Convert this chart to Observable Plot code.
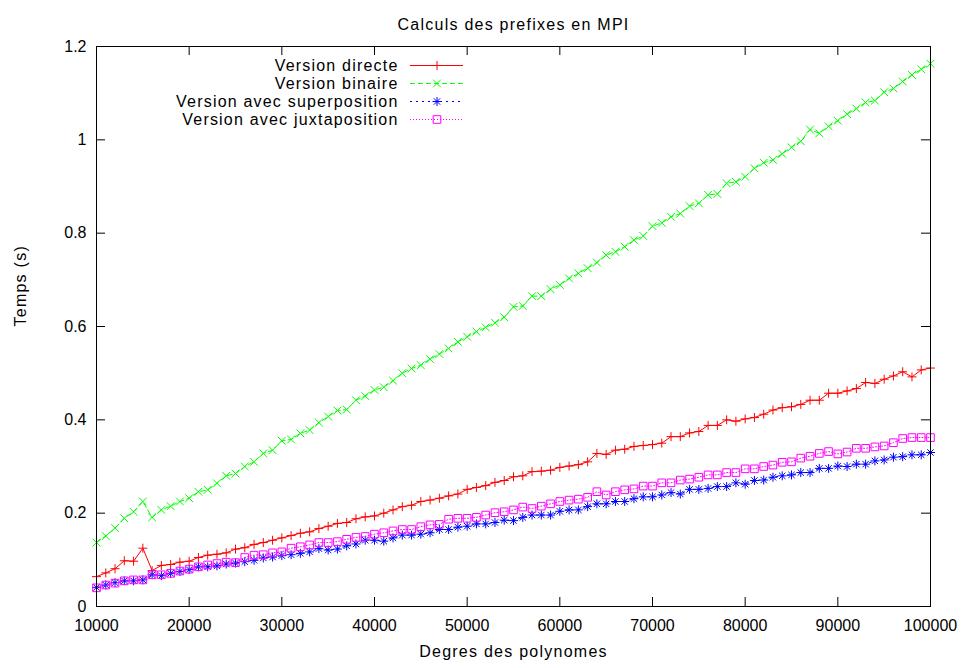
<!DOCTYPE html>
<html>
<head>
<meta charset="utf-8">
<script src="https://cdn.jsdelivr.net/npm/d3@7"></script>
<script src="https://cdn.jsdelivr.net/npm/@observablehq/plot@0.6"></script>
<style>
  html, body { margin: 0; padding: 0; background: #fff; }
  #wrap { position: relative; width: 967px; height: 668px; }
  #legend { position: absolute; left: 160px; top: 50px; }
</style>
</head>
<body>
<div id="wrap"><div id="main"></div><div id="legend"></div></div>
<script>
const degres = [10000,11000,12000,13000,14000,15000,16000,17000,18000,19000,
  20000,21000,22000,23000,24000,25000,26000,27000,28000,29000,
  30000,31000,32000,33000,34000,35000,36000,37000,38000,39000,
  40000,41000,42000,43000,44000,45000,46000,47000,48000,49000,
  50000,51000,52000,53000,54000,55000,56000,57000,58000,59000,
  60000,61000,62000,63000,64000,65000,66000,67000,68000,69000,
  70000,71000,72000,73000,74000,75000,76000,77000,78000,79000,
  80000,81000,82000,83000,84000,85000,86000,87000,88000,89000,
  90000,91000,92000,93000,94000,95000,96000,97000,98000,99000,100000];

const directe = [0.064,0.072,0.081,0.098,0.097,0.125,0.077,0.088,0.090,0.095,
  0.097,0.105,0.110,0.112,0.115,0.123,0.126,0.133,0.137,0.142,
  0.147,0.152,0.157,0.160,0.167,0.172,0.178,0.180,0.188,0.192,
  0.194,0.200,0.207,0.214,0.217,0.225,0.228,0.232,0.237,0.241,
  0.251,0.255,0.259,0.266,0.270,0.278,0.280,0.289,0.290,0.292,
  0.298,0.301,0.304,0.310,0.328,0.326,0.335,0.337,0.343,0.345,
  0.347,0.350,0.364,0.364,0.372,0.375,0.388,0.388,0.400,0.397,
  0.402,0.405,0.412,0.421,0.426,0.428,0.433,0.442,0.442,0.457,
  0.457,0.462,0.467,0.480,0.478,0.487,0.494,0.503,0.492,0.507,0.511];

const binaire = [0.137,0.151,0.168,0.189,0.203,0.225,0.191,0.207,0.215,0.225,
  0.232,0.246,0.250,0.264,0.280,0.285,0.300,0.310,0.328,0.335,
  0.355,0.358,0.371,0.378,0.394,0.407,0.420,0.422,0.442,0.451,
  0.464,0.470,0.484,0.500,0.510,0.517,0.530,0.541,0.553,0.567,
  0.578,0.589,0.598,0.608,0.620,0.642,0.644,0.665,0.665,0.680,
  0.689,0.703,0.714,0.725,0.737,0.753,0.760,0.771,0.785,0.794,
  0.815,0.822,0.835,0.842,0.858,0.864,0.882,0.884,0.907,0.910,
  0.921,0.939,0.951,0.957,0.970,0.984,0.997,1.022,1.014,1.029,
  1.041,1.055,1.067,1.080,1.084,1.102,1.110,1.125,1.139,1.151,1.163];

const superposition = [0.041,0.046,0.051,0.055,0.055,0.057,0.068,0.066,0.071,0.075,
  0.079,0.085,0.085,0.087,0.091,0.093,0.096,0.099,0.104,0.106,
  0.109,0.111,0.114,0.117,0.124,0.121,0.123,0.130,0.134,0.142,
  0.142,0.140,0.147,0.153,0.153,0.155,0.158,0.165,0.165,0.170,
  0.172,0.177,0.177,0.180,0.185,0.184,0.191,0.196,0.196,0.196,
  0.204,0.207,0.207,0.214,0.220,0.220,0.225,0.225,0.231,0.235,
  0.235,0.239,0.244,0.241,0.251,0.251,0.253,0.257,0.257,0.265,
  0.262,0.270,0.271,0.277,0.280,0.282,0.287,0.287,0.296,0.296,
  0.301,0.300,0.305,0.305,0.312,0.314,0.320,0.321,0.325,0.325,0.330];

const juxtaposition = [0.040,0.046,0.050,0.055,0.057,0.057,0.068,0.068,0.071,0.076,
  0.080,0.085,0.089,0.092,0.095,0.094,0.105,0.110,0.111,0.115,
  0.117,0.125,0.128,0.132,0.137,0.137,0.139,0.144,0.148,0.150,
  0.155,0.158,0.162,0.165,0.165,0.171,0.175,0.176,0.187,0.189,
  0.189,0.191,0.196,0.201,0.203,0.207,0.213,0.210,0.215,0.220,
  0.225,0.228,0.230,0.234,0.246,0.239,0.246,0.250,0.252,0.258,
  0.258,0.265,0.265,0.271,0.273,0.277,0.282,0.282,0.287,0.287,
  0.295,0.295,0.300,0.303,0.309,0.310,0.318,0.322,0.328,0.332,
  0.327,0.331,0.339,0.339,0.342,0.344,0.351,0.360,0.362,0.362,0.362];

const seriesNames = ["Version directe", "Version binaire", "Version avec superposition", "Version avec juxtaposition"];
const xTicks = [10000,20000,30000,40000,50000,60000,70000,80000,90000,100000];
const yTicks = [0,0.2,0.4,0.6,0.8,1,1.2];
const yTickLabels = ["0","0.2","0.4","0.6","0.8","1","1.2"];
const titleText = "Calculs des prefixes en MPI";
const xLabel = "Degres des polynomes";
const yLabel = "Temps (s)";

// styles (not data)
const styles = [
  {stroke: "#ff0000", dash: null, symbols: [{symbol: "plus", r: 3.0}]},
  {stroke: "#00ff00", dash: "5,3", symbols: [{symbol: "times", r: 3.6}]},
  {stroke: "#0000ff", dash: "2,4", symbols: [{symbol: "plus", r: 3.0}, {symbol: "times", r: 3.0}]},
  {stroke: "#ff00ff", dash: "1,2", symbols: [{symbol: "square", r: 4.3}]}
];
const valuesBySeries = [directe, binaire, superposition, juxtaposition];

const seriesMarks = [];
valuesBySeries.forEach((vals, s) => {
  const rows = degres.map((x, i) => ({x, y: vals[i]}));
  const st = styles[s];
  seriesMarks.push(Plot.line(rows, {x: "x", y: "y", stroke: st.stroke, strokeWidth: 1, strokeDasharray: st.dash}));
  st.symbols.forEach(sym => {
    seriesMarks.push(Plot.dot(rows, {x: "x", y: "y", symbol: sym.symbol, r: sym.r, stroke: st.stroke, fill: "none", strokeWidth: 1}));
  });
});

const W = 967, H = 668, ML = 96, MR = 37, MT = 46, MB = 62;
const innerW = W - ML - MR, innerH = H - MT - MB;
const tickLen = 9;
const FONT = "'Liberation Sans', Arial, sans-serif";

const chart = Plot.plot({
  width: W, height: H,
  marginLeft: ML, marginRight: MR, marginTop: MT, marginBottom: MB,
  style: {fontFamily: FONT, fontSize: "16px", background: "#fff", color: "#000"},
  x: {type: "linear", domain: [10000, 100000]},
  y: {type: "linear", domain: [0, 1.2]},
  marks: [
    ...seriesMarks,
    Plot.frame({stroke: "#000", strokeWidth: 1}),
    Plot.ruleX(xTicks, {x: d => d, insetTop: innerH - tickLen, stroke: "#000"}),
    Plot.ruleX(xTicks, {x: d => d, insetBottom: innerH - tickLen, stroke: "#000"}),
    Plot.ruleY(yTicks, {y: d => d, insetRight: innerW - tickLen, stroke: "#000"}),
    Plot.ruleY(yTicks, {y: d => d, insetLeft: innerW - tickLen, stroke: "#000"}),
    Plot.axisX(xTicks, {anchor: "bottom", tickSize: 0, tickPadding: 13, tickFormat: d => String(d), label: null}),
    Plot.axisY(yTicks, {anchor: "left", tickSize: 0, tickPadding: 10, tickFormat: (d, i) => yTickLabels[i], label: null}),
    Plot.text([titleText], {frameAnchor: "top", dy: -28, text: d => d, fill: "#000"}),
    Plot.text([xLabel], {frameAnchor: "bottom", dy: 50, text: d => d, fill: "#000"}),
    Plot.text([yLabel], {frameAnchor: "left", dx: -76, rotate: -90, text: d => d, fill: "#000"})
  ]
});
d3.select(chart).selectAll("g[aria-label='text'] text").attr("letter-spacing", "1.25px");
document.getElementById("main").appendChild(chart);

// legend (layout only)
const LW = 320;
const legendMarks = [
  Plot.text(seriesNames, {y: d => d, frameAnchor: "left", dx: 238, textAnchor: "end", text: d => d, fill: "#000"})
];
seriesNames.forEach((name, s) => {
  const st = styles[s];
  legendMarks.push(Plot.ruleY([name], {y: d => d, insetLeft: 250, insetRight: LW - 303, stroke: st.stroke, strokeWidth: 1, strokeDasharray: st.dash}));
  st.symbols.forEach(sym => {
    legendMarks.push(Plot.dot([name], {y: d => d, frameAnchor: "left", dx: 276.5, symbol: sym.symbol, r: sym.r, stroke: st.stroke, fill: "none", strokeWidth: 1}));
  });
});
const legend = Plot.plot({
  width: LW, height: 90,
  marginLeft: 0, marginRight: 0, marginTop: 14, marginBottom: 20,
  style: {fontFamily: FONT, fontSize: "16px", background: "transparent", color: "#000"},
  y: {type: "point", domain: seriesNames, padding: 0, axis: null},
  marks: legendMarks
});
d3.select(legend).selectAll("g[aria-label='text'] text").attr("letter-spacing", "1.2px");
document.getElementById("legend").appendChild(legend);
</script>
</body>
</html>
